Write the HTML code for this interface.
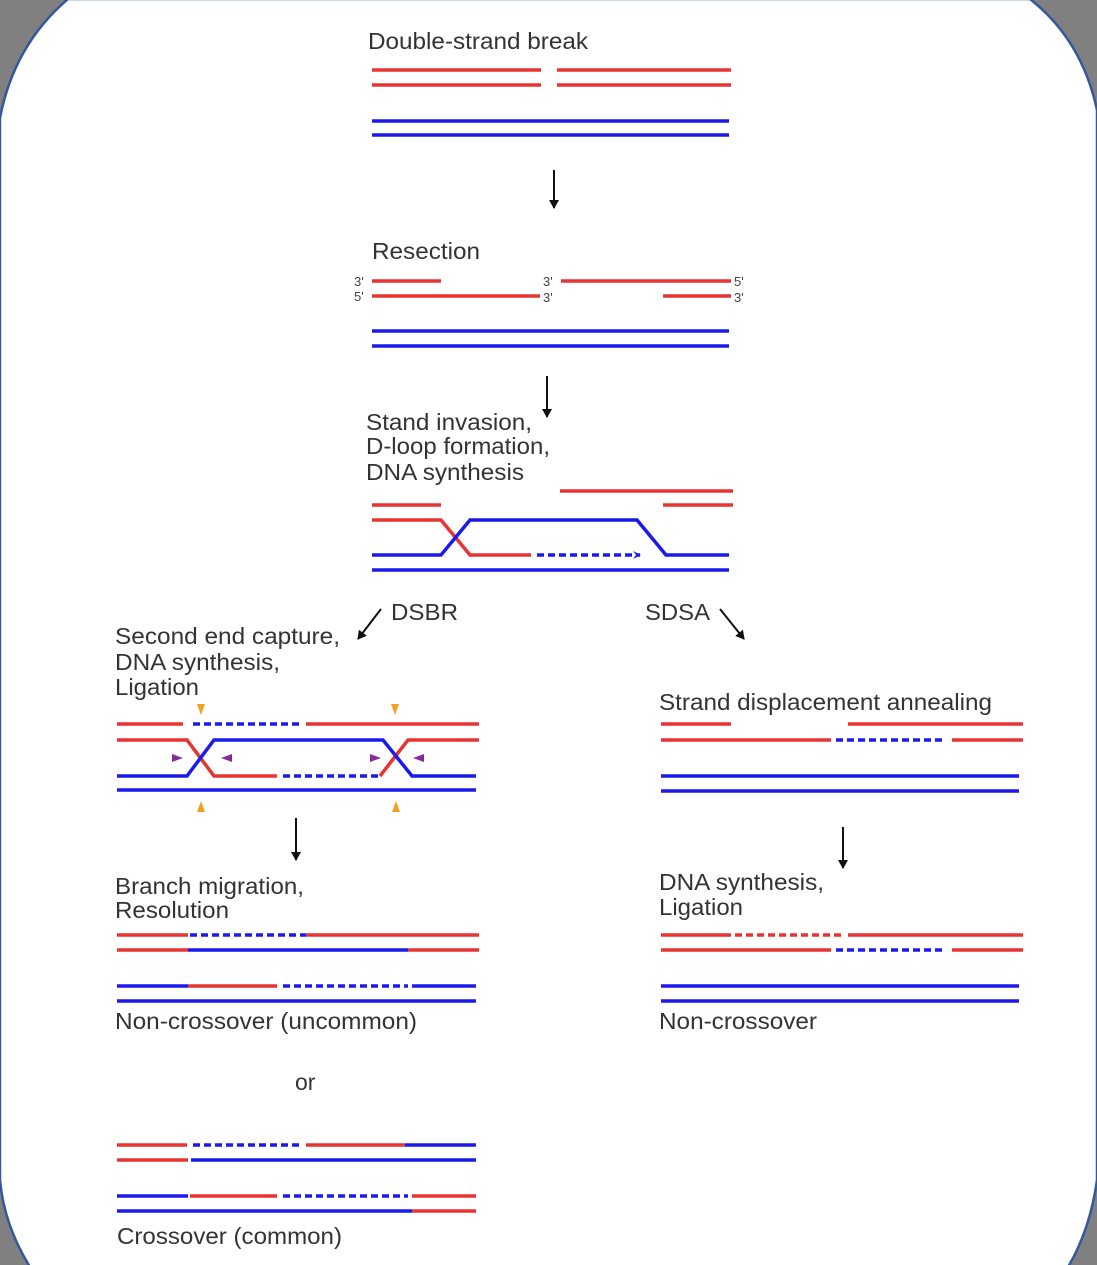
<!DOCTYPE html>
<html><head><meta charset="utf-8"><style>
html,body{margin:0;padding:0;background:#808080;width:1097px;height:1265px;overflow:hidden;position:relative}
svg{position:absolute;left:0;top:0}
text{font-family:"Liberation Sans",sans-serif;font-size:23px;fill:#333}
.s{font-size:13px;fill:#444}
</style></head><body>
<svg width="1097" height="1265" viewBox="0 0 1097 1265">
<defs>
<marker id="ah" markerWidth="12" markerHeight="12" refX="8" refY="5" orient="auto" markerUnits="userSpaceOnUse"><path d="M0,0 L9,5 L0,10 Z" fill="#111"/></marker>
<marker id="bh" markerWidth="10" markerHeight="10" refX="7" refY="5" orient="auto" markerUnits="userSpaceOnUse"><path d="M0,1 L8,5 L0,9 L3,5 Z" fill="#1a1aee"/></marker>
</defs>
<rect width="1097" height="1265" fill="#808080"/>
<path d="M30,1267 Q4,1225 0,1180 L0,118 Q14,45 68,-1 L1030,-1 Q1082,40 1097,110 L1097,1180 Q1090,1230 1068,1267 Z" fill="#fff" stroke="#34589a" stroke-width="2.5"/>
<g stroke-width="3.5" fill="none">
<g stroke="#e83333"><path d="M372 70H541M557 70H731M372 85H541M557 85H731"/></g>
<g stroke="#1a1aee"><path d="M372 121H729M372 135H729"/></g>
<g stroke="#e83333"><path d="M372 281H441M561 281H731M372 296H540M663 296H731"/></g>
<g stroke="#1a1aee"><path d="M372 331H729M372 346H729"/></g>
<g stroke="#e83333"><path d="M560 491H733M372 505H441M663 505H733M372 520H441L470 555H531"/></g>
<g stroke="#1a1aee"><path d="M372 555H441L470 520H637L666 555H729M372 570H729"/>
<path d="M537 555H640" stroke-dasharray="7,4" marker-end="url(#bh)"/></g>
<g stroke="#e83333"><path d="M117 724H183M306 724H479M117 740H187L214 776H277M380 776L408 740H479"/></g>
<g stroke="#1a1aee"><path d="M117 776H187L214 740H383L412 776H476M117 790H476"/>
<path d="M193 724H300M283 776H378" stroke-dasharray="7,4"/></g>
<g stroke="#e83333"><path d="M117 935H188M306 935H479M117 950H188M408 950H479M188 986H277"/></g>
<g stroke="#1a1aee"><path d="M188 950H408M117 986H188M412 986H476M117 1001H476"/>
<path d="M190 935H306M283 986H408" stroke-dasharray="7,4"/></g>
<g stroke="#e83333"><path d="M117 1145H187M306 1145H405M117 1160H188M190 1196H277M412 1196H476M412 1211H476"/></g>
<g stroke="#1a1aee"><path d="M405 1145H476M191 1160H476M117 1196H188M117 1211H412"/>
<path d="M193 1145H300M283 1196H408" stroke-dasharray="7,4"/></g>
<g stroke="#e83333"><path d="M661 724H731M848 724H1023M661 740H831M952 740H1023M661 935H731M848 935H1023M661 950H831M952 950H1023"/>
<path d="M735 935H845" stroke-dasharray="7,4"/></g>
<g stroke="#1a1aee"><path d="M661 776H1019M661 791H1019M661 986H1019M661 1001H1019"/>
<path d="M836 740H946M836 950H946" stroke-dasharray="7,4"/></g>
<g stroke="#111" stroke-width="2">
<path d="M554 170V208" marker-end="url(#ah)"/>
<path d="M547 376V417" marker-end="url(#ah)"/>
<path d="M296 818V860" marker-end="url(#ah)"/>
<path d="M843 827V868" marker-end="url(#ah)"/>
<path d="M381 609L358 639" marker-end="url(#ah)"/>
<path d="M720 609L744 639" marker-end="url(#ah)"/>
</g>
</g>
<g fill="#f4a020"><path d="M197 704h8l-4 11zM391 704h8l-4 11zM197 812h8l-4-11zM392 812h8l-4-11z"/></g>
<g fill="#8a2a9a"><path d="M172 754v8l11-4zM232 754v8l-11-4zM370 754v8l11-4zM424 754v8l-11-4z"/></g>
<g>
<text x="368" y="49" textLength="220" lengthAdjust="spacingAndGlyphs">Double-strand break</text>
<text x="372" y="259" textLength="108" lengthAdjust="spacingAndGlyphs">Resection</text>
<text class="s" x="354" y="286">3'</text><text class="s" x="354" y="301">5'</text>
<text class="s" x="543" y="286">3'</text><text class="s" x="543" y="302">3'</text>
<text class="s" x="734" y="286">5'</text><text class="s" x="734" y="302">3'</text>
<text x="366" y="430" textLength="166" lengthAdjust="spacingAndGlyphs">Stand invasion,</text>
<text x="366" y="454" textLength="184" lengthAdjust="spacingAndGlyphs">D-loop formation,</text>
<text x="366" y="480" textLength="158" lengthAdjust="spacingAndGlyphs">DNA synthesis</text>
<text x="391" y="620" textLength="67" lengthAdjust="spacingAndGlyphs">DSBR</text>
<text x="645" y="620" textLength="65" lengthAdjust="spacingAndGlyphs">SDSA</text>
<text x="115" y="644" textLength="225" lengthAdjust="spacingAndGlyphs">Second end capture,</text>
<text x="115" y="670" textLength="165" lengthAdjust="spacingAndGlyphs">DNA synthesis,</text>
<text x="115" y="695" textLength="84" lengthAdjust="spacingAndGlyphs">Ligation</text>
<text x="659" y="710" textLength="333" lengthAdjust="spacingAndGlyphs">Strand displacement annealing</text>
<text x="115" y="894" textLength="189" lengthAdjust="spacingAndGlyphs">Branch migration,</text>
<text x="115" y="918" textLength="114" lengthAdjust="spacingAndGlyphs">Resolution</text>
<text x="659" y="890" textLength="165" lengthAdjust="spacingAndGlyphs">DNA synthesis,</text>
<text x="659" y="915" textLength="84" lengthAdjust="spacingAndGlyphs">Ligation</text>
<text x="115" y="1029" textLength="302" lengthAdjust="spacingAndGlyphs">Non-crossover (uncommon)</text>
<text x="659" y="1029" textLength="158" lengthAdjust="spacingAndGlyphs">Non-crossover</text>
<text x="295" y="1090">or</text>
<text x="117" y="1244" textLength="225" lengthAdjust="spacingAndGlyphs">Crossover (common)</text>
</g>
</svg>
</body></html>
